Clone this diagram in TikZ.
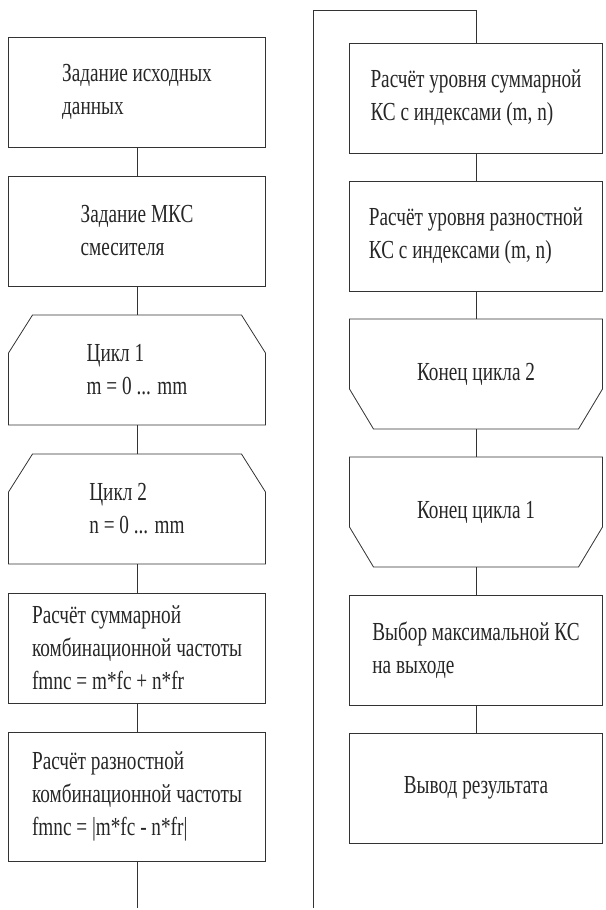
\documentclass[tikz,border=0pt]{standalone}
\usepackage{fontspec}
\setmainfont[FakeStretch=0.74]{Liberation Serif}
\usetikzlibrary{positioning}
\tikzset{
	every picture/.style={/utils/exec={\fontsize{26}{33}\selectfont}},
	blk/.style={rectangle, draw=black!80, line width=0.8pt, minimum width=257pt, minimum height=110pt, inner sep=0pt, outer sep=0pt, align=left, text=black!85},
	cyc/.style={blk, draw=none},
}

\begin{document}
\begin{tikzpicture}[x=1pt, y=1pt, node distance=29pt, line width=0.8pt, draw=black!80]
			\useasboundingbox (0,0) rectangle (605,-910);
			% left column
			\node[blk] at (137,-92) (init) {Задание исходных\\данных};
			\node[blk, below= of init] (mks) {Задание МКС\\смесителя};
			\node[cyc, below= of mks] (cyc1) {Цикл 1\\m = 0 ... mm};
			\node[cyc, below= of cyc1] (cyc2) {Цикл 2\\n = 0 ... mm};
			\node[blk, below= of cyc2] (fsum) {Расчёт суммарной\\комбинационной частоты\\fmnc = m*fc + n*fr};
			\node[blk, below= of fsum, minimum height=129pt] (fdif) {Расчёт разностной\\комбинационной частоты\\fmnc = |m*fc - n*fr|};
			\coordinate (outl) at (137,-908);
			% right column
			\node[blk, minimum width=253pt] at (476,-98) (lsum) {Расчёт уровня суммарной\\КС с индексами (m, n)};
			\node[blk, minimum width=253pt, below=28pt of lsum] (ldif) {Расчёт уровня разностной\\КС с индексами (m, n)};
			\node[cyc, minimum width=253pt, below=28pt of ldif] (end2) {Конец цикла 2};
			\node[cyc, minimum width=253pt, below=28pt of end2] (end1) {Конец цикла 1};
			\node[blk, minimum width=253pt, below=28pt of end1] (maxks) {Выбор максимальной КС\\на выходе};
			\node[blk, minimum width=253pt, below=28pt of maxks] (res) {Вывод результата};
			\coordinate (inr) at (313,-908);
			\coordinate (topr) at (313,-10);

			% loop shapes
			\foreach \n in {cyc1,cyc2}
				\draw ([xshift=24pt]\n.north west) -- ([xshift=-24pt]\n.north east) -- ([yshift=-38pt]\n.north east)
					-- (\n.south east) -- (\n.south west) -- ([yshift=-38pt]\n.north west) -- cycle;
			\foreach \n in {end2,end1}
				\draw (\n.north west) -- (\n.north east) -- ([yshift=40pt]\n.south east)
					-- ([xshift=-24pt]\n.south east) -- ([xshift=24pt]\n.south west) -- ([yshift=40pt]\n.south west) -- cycle;

			% connectors
			\draw (init) -- (mks);
			\draw (mks) -- (cyc1);
			\draw (cyc1) -- (cyc2);
			\draw (cyc2) -- (fsum);
			\draw (fsum) -- (fdif);
			\draw (fdif) -- (outl);
			\draw (inr) -- (topr) -| (lsum);
			\draw (lsum) -- (ldif);
			\draw (ldif) -- (end2);
			\draw (end2) -- (end1);
			\draw (end1) -- (maxks);
			\draw (maxks) -- (res);
		\end{tikzpicture}
\end{document}
